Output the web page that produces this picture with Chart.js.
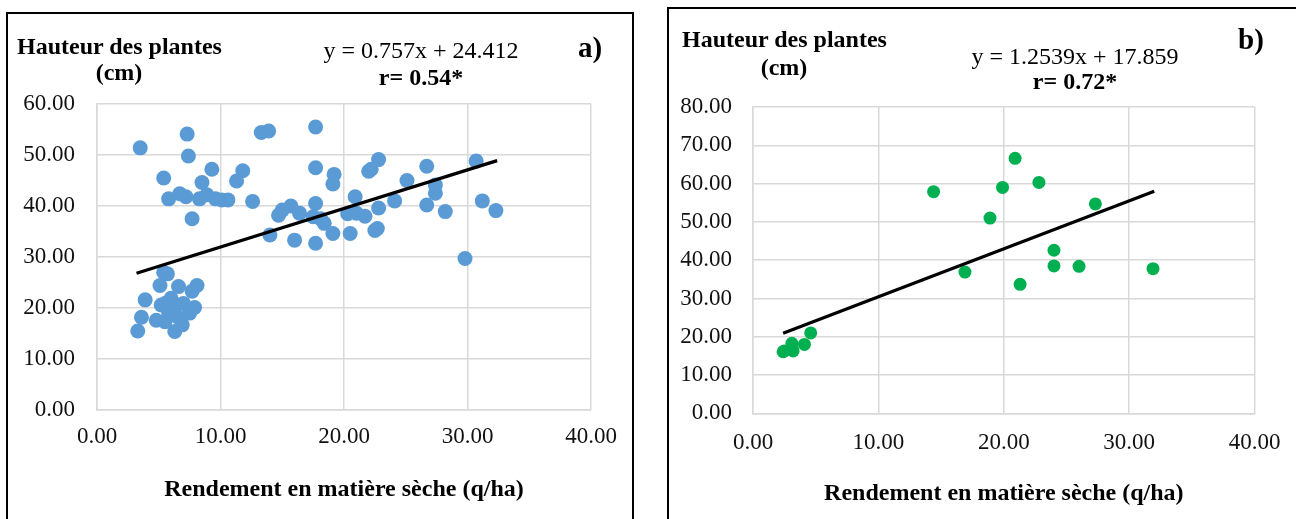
<!DOCTYPE html>
<html>
<head>
<meta charset="utf-8">
<script src="https://cdn.jsdelivr.net/npm/chart.js@4"></script>
<style>
    body { margin: 0; background: #fff; width: 1296px; height: 519px; overflow: hidden; position: relative; font-family: "Liberation Serif", "Times New Roman", serif; color: #000; }
    canvas { position: absolute; top: 0; }
    .cadre { position: absolute; border: 2px solid #000; box-sizing: border-box; }
    .texte { position: absolute; white-space: nowrap; text-align: center; }
    .titre_y { font-weight: bold; font-size: 24px; }
    .equation { font-size: 24px; }
    .lettre { font-weight: bold; font-size: 29px; line-height: 29px; text-align: left; }
</style>
</head>
<body>
<div class="cadre" style="left:6px; top:12px; width:628px; height:530px;"></div>
<div class="cadre" style="left:667px; top:7px; width:640px; height:530px;"></div>

<canvas id="graficoA" width="650" height="519" style="left:0px;"></canvas>
<canvas id="graficoB" width="646" height="519" style="left:650px;"></canvas>

<div class="texte titre_y" style="left:17px; top:32.5px; width:204px; line-height:26px;">Hauteur des plantes<br>(cm)</div>
<div class="texte equation" style="left:301px; top:37px; width:240px; line-height:26.7px;">y = 0.757x + 24.412<br><b>r= 0.54*</b></div>
<div class="texte lettre" style="left:578px; top:33px;">a)</div>

<div class="texte titre_y" style="left:682px; top:24.5px; width:204px; line-height:28px;">Hauteur des plantes<br>(cm)</div>
<div class="texte equation" style="left:955px; top:43.5px; width:240px; line-height:25px;">y = 1.2539x + 17.859<br><b>r= 0.72*</b></div>
<div class="texte lettre" style="left:1238px; top:25px;">b)</div>

<script>
// a) rendement (q/ha) x hauteur (cm)
const rendementA = [
    3.5, 7.3, 7.4, 9.3, 5.4, 8.5, 11.8, 11.3, 5.8, 6.7, 7.2, 8.3, 8.9, 9.6, 10.1, 10.6, 12.6, 7.7,
    13.3, 13.9, 17.7, 17.7, 19.2, 19.1, 14.0, 14.7, 15.0, 15.7, 16.4, 16.0, 17.7, 17.7, 17.5, 18.1,
    18.4, 19.1, 20.5, 20.3, 20.9, 21.0, 21.7, 22.8, 22.5, 22.7, 22.0, 22.2, 22.8, 24.1, 25.1, 26.7,
    26.7, 27.4, 27.4, 28.2, 29.8, 30.7, 31.2, 32.3,
    3.3, 3.6, 3.9, 4.8, 5.1, 5.4, 5.7, 5.2, 5.5, 5.8, 6.0, 6.3, 6.5, 6.6, 6.3, 6.9, 7.0, 7.5, 7.9,
    7.7, 8.1, 5.6, 6.1
];
const hauteurA = [
    51.4, 54.1, 49.8, 47.2, 45.5, 44.6, 46.9, 44.9, 41.4, 42.4, 41.8, 41.4, 42.2, 41.4, 41.2, 41.2, 40.9, 37.5,
    54.4, 54.7, 55.5, 47.5, 46.2, 44.3, 34.3, 38.2, 39.2, 40.0, 38.6, 33.3, 32.7, 40.5, 37.9, 37.5,
    36.6, 34.6, 34.6, 38.5, 41.8, 38.6, 38.0, 39.6, 35.2, 35.6, 46.8, 47.2, 49.1, 41.0, 45.0, 47.8,
    40.2, 44.1, 42.5, 38.9, 29.7, 48.8, 41.0, 39.1,
    15.5, 18.2, 21.6, 17.6, 24.4, 27.0, 26.7, 20.6, 17.3, 19.0, 21.9, 20.6, 18.3, 24.2, 15.4, 16.7, 20.9, 19.0, 20.1,
    23.3, 24.4, 21.0, 19.8
];
const tendanceAx = [3.2, 32.4];
const tendanceAy = [26.8, 48.9];

// b)
const rendementB = [2.4, 2.5, 3.1, 3.2, 4.1, 4.6, 14.4, 16.9, 18.9, 19.9, 20.9, 21.3, 22.8, 24.0, 24.0, 26.0, 27.3, 31.9];
const hauteurB = [16.1, 16.3, 18.3, 16.3, 18.0, 21.0, 57.9, 36.9, 51.0, 59.0, 66.6, 33.7, 60.3, 42.6, 38.5, 38.4, 54.7, 37.8];
const tendanceBx = [2.4, 32.0];
const tendanceBy = [20.9, 58.0];

const ticksX = [0, 10, 20, 30, 40];
const ticksYA = [0, 10, 20, 30, 40, 50, 60];
const ticksYB = [0, 10, 20, 30, 40, 50, 60, 70, 80];

const tituloX = 'Rendement en matière sèche (q/ha)';
const fonte = '"Liberation Serif", "Times New Roman", serif';

function pares(xs, ys) {
    let data = [];
    for (let i = 0; i < xs.length; i++) {
        data.push({ x: xs[i], y: ys[i] });
    }
    return data;
}

function renderNuvem(canvas, cfg) {
    const grade = { color: '#d9d9d9', lineWidth: 1.5, drawTicks: false };
    const borda = { display: true, color: '#d9d9d9', width: 1.5 };

    return new Chart(canvas, {
        type: 'scatter',
        data: {
            datasets: [
                {
                    type: 'line',
                    data: pares(cfg.tx, cfg.ty),
                    borderColor: '#000',
                    borderWidth: 3.2,
                    pointRadius: 0,
                    fill: false
                },
                {
                    data: pares(cfg.x, cfg.y),
                    backgroundColor: cfg.cor,
                    borderWidth: 0,
                    pointRadius: cfg.raio
                }
            ]
        },
        options: {
            responsive: false,
            animation: false,
            devicePixelRatio: 1,
            layout: { padding: cfg.padding },
            plugins: { legend: { display: false }, tooltip: { enabled: false } },
            scales: {
                x: {
                    type: 'linear',
                    min: 0,
                    max: 40,
                    afterBuildTicks: (s) => { s.ticks = ticksX.map(v => ({ value: v })); },
                    afterFit: (s) => { s.height = 100; },
                    ticks: {
                        padding: cfg.padX,
                        color: '#111',
                        font: { family: fonte, size: 23 },
                        maxRotation: 0,
                        callback: (v) => Number(v).toFixed(2)
                    },
                    grid: grade,
                    border: borda,
                    title: {
                        display: true,
                        text: tituloX,
                        color: '#000',
                        font: { family: fonte, size: 24, weight: 'bold' },
                        padding: { top: 0, bottom: cfg.padTitulo }
                    }
                },
                y: {
                    min: 0,
                    max: cfg.maxY,
                    afterBuildTicks: (s) => { s.ticks = cfg.ticksY.map(v => ({ value: v })); },
                    afterFit: (s) => { s.width = 80; },
                    ticks: {
                        padding: cfg.padY,
                        color: '#111',
                        font: { family: fonte, size: 23 },
                        callback: (v) => Number(v).toFixed(2)
                    },
                    grid: grade,
                    border: borda
                }
            }
        }
    });
}

renderNuvem(document.getElementById('graficoA'), {
    x: rendementA, y: hauteurA, tx: tendanceAx, ty: tendanceAy,
    cor: '#5b9bd5', raio: 7.5, maxY: 60, ticksY: ticksYA,
    padding: { left: 17, right: 59, top: 104, bottom: 9 },
    padX: 13.5, padY: 22, padTitulo: 5.6
});

renderNuvem(document.getElementById('graficoB'), {
    x: rendementB, y: hauteurB, tx: tendanceBx, ty: tendanceBy,
    cor: '#00b050', raio: 6.5, maxY: 80, ticksY: ticksYB,
    padding: { left: 23, right: 40.5, top: 107, bottom: 5.6 },
    padX: 15.5, padY: 21, padTitulo: 5
});
</script>
</body>
</html>
